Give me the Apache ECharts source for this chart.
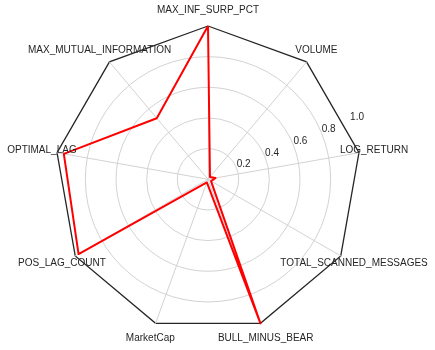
<!DOCTYPE html>
<html>
<head>
<meta charset="utf-8">
<script src="https://cdn.jsdelivr.net/npm/echarts@6/dist/echarts.min.js"></script>
<style>
html,body{margin:0;padding:0;background:#fff;}
#chart{width:435px;height:350px;}
</style>
</head>
<body>
<div id="chart"></div>
<script>
// Indicators in clockwise order starting at the top
const categories = ["MAX_INF_SURP_PCT", "VOLUME", "LOG_RETURN", "TOTAL_SCANNED_MESSAGES",
  "BULL_MINUS_BEAR", "MarketCap", "POS_LAG_COUNT", "OPTIMAL_LAG", "MAX_MUTUAL_INFORMATION"];
const values = [1.0, 0.02, 0.05, 0.023, 1.0, 0.022, 0.975, 0.955, 0.52];
const tickLabels = ["0.2", "0.4", "0.6", "0.8", "1.0"];
const tickValues = [0.2, 0.4, 0.6, 0.8, 1.0];

const CX = 208, CY = 179.3, R = 153.3;
const n = categories.length;
// ECharts radar places indicators counter-clockwise; reorder to keep clockwise layout
const order = [0];
for (let i = n - 1; i >= 1; i--) order.push(i);
const indicator = order.map(i => ({ name: categories[i], max: 1, min: 0 }));
const seriesValues = order.map(i => values[i]);

const textColor = '#262626';
const font = '"Liberation Sans", Arial, sans-serif';
const graphics = [];
categories.forEach((name, i) => {
  const th = i * 2 * Math.PI / n;
  const r = 1.1 * R;
  graphics.push({
    type: 'text', x: CX + r * Math.sin(th), y: CY - r * Math.cos(th),
    style: { text: name, fill: textColor, font: '10px ' + font, textAlign: 'center', textVerticalAlign: 'middle' },
    z: 10
  });
});
const lblAng = 67.5 * Math.PI / 180;
tickValues.forEach((v, i) => {
  const r = v * R + 8;
  graphics.push({
    type: 'text', x: CX + r * Math.sin(lblAng), y: CY - r * Math.cos(lblAng),
    style: { text: tickLabels[i], fill: textColor, font: '10px ' + font, textAlign: 'center', textVerticalAlign: 'middle' },
    z: 10
  });
});

const chart = echarts.init(document.getElementById('chart'), null, { renderer: 'canvas' });
chart.setOption({
  animation: false,
  backgroundColor: '#ffffff',
  radar: [
    {
      center: [CX, CY], radius: R * 0.8, startAngle: 90, shape: 'circle',
      indicator: indicator.map(d => ({ name: d.name, max: 0.8, min: 0 })),
      splitNumber: 4,
      axisName: { show: false },
      axisLine: { show: false },
      axisTick: { show: false },
      axisLabel: { show: false },
      splitArea: { show: false },
      splitLine: { lineStyle: { color: '#d3d3d3', width: 1 } }
    },
    {
      center: [CX, CY], radius: R, startAngle: 90, shape: 'polygon',
      indicator: indicator,
      splitNumber: 1,
      axisName: { show: false },
      axisLine: { show: true, lineStyle: { color: '#d3d3d3', width: 1 } },
      axisTick: { show: false },
      axisLabel: { show: false },
      splitArea: { show: false },
      splitLine: { lineStyle: { color: '#262626', width: 1.3 } }
    }
  ],
  series: [{
    type: 'radar', radarIndex: 1, symbol: 'none', z: 5,
    lineStyle: { color: '#ff0000', width: 2 },
    data: [{ value: seriesValues }]
  }],
  graphic: graphics
});
</script>
</body>
</html>
